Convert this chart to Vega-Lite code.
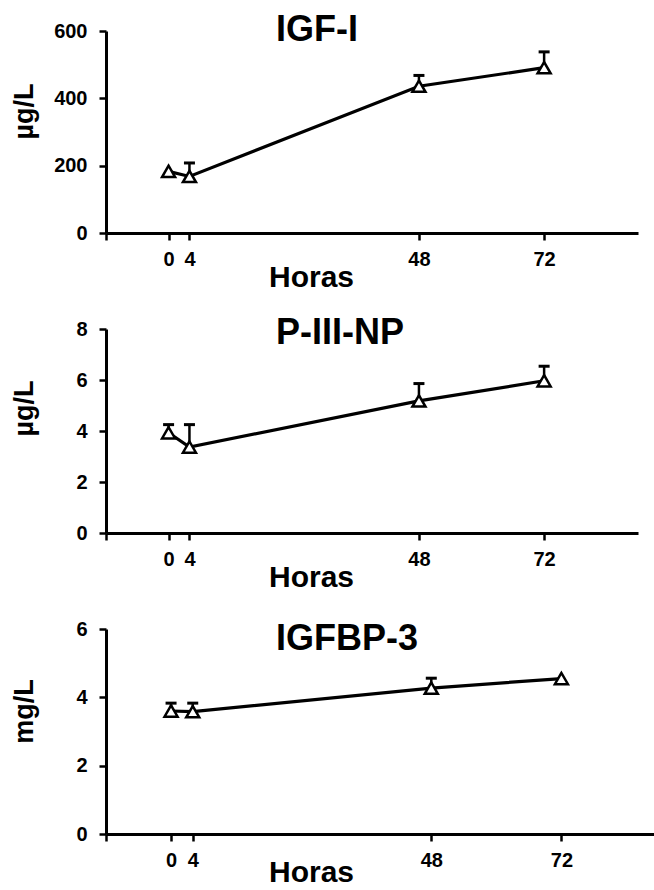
{
  "$schema": "https://vega.github.io/schema/vega-lite/v6.json",
  "background": "white",
  "padding": {"left": 10, "top": 12, "right": 0, "bottom": 0},
  "datasets": {
    "d": [
      {"panel": "IGF-I", "hour": 0, "value": 183},
      {"panel": "IGF-I", "hour": 4, "value": 168, "hi": 208},
      {"panel": "IGF-I", "hour": 48, "value": 436, "hi": 468},
      {"panel": "IGF-I", "hour": 72, "value": 491, "hi": 538},
      {"panel": "P-III-NP", "hour": 0, "value": 3.93, "hi": 4.25},
      {"panel": "P-III-NP", "hour": 4, "value": 3.37, "hi": 4.25},
      {"panel": "P-III-NP", "hour": 48, "value": 5.18, "hi": 5.86},
      {"panel": "P-III-NP", "hour": 72, "value": 5.97, "hi": 6.54},
      {"panel": "IGFBP-3", "hour": 0, "value": 3.6, "hi": 3.83},
      {"panel": "IGFBP-3", "hour": 4, "value": 3.58, "hi": 3.83},
      {"panel": "IGFBP-3", "hour": 48, "value": 4.27, "hi": 4.56},
      {"panel": "IGFBP-3", "hour": 72, "value": 4.55}
    ]
  },
  "config": {
    "font": "Liberation Sans",
    "view": {"stroke": null},
    "axis": {
      "grid": false, "domainColor": "black", "domainWidth": 3,
      "tickColor": "black", "tickWidth": 2.5, "tickSize": 7,
      "labelFont": "Liberation Sans", "labelFontSize": 20, "labelFontWeight": "bold", "labelColor": "black",
      "titleFont": "Liberation Sans", "titleFontWeight": "bold", "titleColor": "black",
      "labelOverlap": false, "labelBound": false, "labelFlush": false
    },
    "axisX": {"labelPadding": 9, "titleFontSize": 30, "titleX": 205, "titleY": 53, "titleBaseline": "alphabetic", "titleAlign": "center"},
    "axisY": {"labelPadding": 12, "titleFontSize": 27, "titleX": -68, "titleY": 80, "titleAngle": 270, "titleBaseline": "bottom", "titleAlign": "center"},
    "title": {"fontSize": 36, "fontWeight": "bold", "color": "black", "anchor": "start", "frame": "group", "dx": 170, "offset": 0, "baseline": "alphabetic", "font": "Liberation Sans"}
  },
  "spacing": 96,
  "bounds": "flush",
  "vconcat": [
    {
      "width": 532, "height": 202,
      "title": {"text": "IGF-I", "dy": 32},
      "data": {"name": "d"},
      "transform": [{"filter": "datum.panel === 'IGF-I'"}],
      "encoding": {
        "x": {"field": "hour", "type": "quantitative", "scale": {"domain": [-12, 90]},
              "axis": {"title": "Horas", "values": [-12, 0, 4, 48, 72], "labelExpr": "datum.value < 0 ? '' : datum.label"}},
        "y": {"field": "value", "type": "quantitative", "scale": {"domain": [0, 600]},
              "axis": {"title": "µg/L", "values": [0, 200, 400, 600]}}
      },
      "layer": [
        {"mark": {"type": "line", "color": "black", "strokeWidth": 3.2}},
        {"transform": [{"filter": "isValid(datum.hi)"}], "mark": {"type": "rule", "color": "black", "strokeWidth": 2.5}, "encoding": {"y2": {"field": "hi"}}},
        {"transform": [{"filter": "isValid(datum.hi)"}], "mark": {"type": "tick", "orient": "horizontal", "size": 11, "thickness": 3, "color": "black", "opacity": 1}, "encoding": {"y": {"field": "hi", "type": "quantitative", "title": "µg/L"}}},
        {"mark": {"type": "point", "shape": "triangle-up", "size": 170, "filled": true, "fill": "white", "stroke": "black", "strokeWidth": 2.5, "opacity": 1}}
      ]
    },
    {
      "width": 532, "height": 204,
      "title": {"text": "P-III-NP", "dy": 37},
      "data": {"name": "d"},
      "transform": [{"filter": "datum.panel === 'P-III-NP'"}],
      "encoding": {
        "x": {"field": "hour", "type": "quantitative", "scale": {"domain": [-12, 90]},
              "axis": {"title": "Horas", "values": [-12, 0, 4, 48, 72], "labelExpr": "datum.value < 0 ? '' : datum.label"}},
        "y": {"field": "value", "type": "quantitative", "scale": {"domain": [0, 8]},
              "axis": {"title": "µg/L", "values": [0, 2, 4, 6, 8], "titleY": 79}}
      },
      "layer": [
        {"mark": {"type": "line", "color": "black", "strokeWidth": 3.2}},
        {"transform": [{"filter": "isValid(datum.hi)"}], "mark": {"type": "rule", "color": "black", "strokeWidth": 2.5}, "encoding": {"y2": {"field": "hi"}}},
        {"transform": [{"filter": "isValid(datum.hi)"}], "mark": {"type": "tick", "orient": "horizontal", "size": 11, "thickness": 3, "color": "black", "opacity": 1}, "encoding": {"y": {"field": "hi", "type": "quantitative", "title": "µg/L"}}},
        {"mark": {"type": "point", "shape": "triangle-up", "size": 170, "filled": true, "fill": "white", "stroke": "black", "strokeWidth": 2.5, "opacity": 1}}
      ]
    },
    {
      "width": 553, "height": 205,
      "title": {"text": "IGFBP-3", "dy": 43},
      "data": {"name": "d"},
      "transform": [{"filter": "datum.panel === 'IGFBP-3'"}],
      "encoding": {
        "x": {"field": "hour", "type": "quantitative", "scale": {"domain": [-12, 90]},
              "axis": {"title": "Horas", "values": [-12, 0, 4, 48, 72], "labelExpr": "datum.value < 0 ? '' : datum.label", "titleY": 47}},
        "y": {"field": "value", "type": "quantitative", "scale": {"domain": [0, 6]},
              "axis": {"title": "mg/L", "values": [0, 2, 4, 6], "titleY": 82}}
      },
      "layer": [
        {"mark": {"type": "line", "color": "black", "strokeWidth": 3.2}},
        {"transform": [{"filter": "isValid(datum.hi)"}], "mark": {"type": "rule", "color": "black", "strokeWidth": 2.5}, "encoding": {"y2": {"field": "hi"}}},
        {"transform": [{"filter": "isValid(datum.hi)"}], "mark": {"type": "tick", "orient": "horizontal", "size": 11, "thickness": 3, "color": "black", "opacity": 1}, "encoding": {"y": {"field": "hi", "type": "quantitative", "title": "mg/L"}}},
        {"mark": {"type": "point", "shape": "triangle-up", "size": 170, "filled": true, "fill": "white", "stroke": "black", "strokeWidth": 2.5, "opacity": 1}}
      ]
    }
  ]
}
